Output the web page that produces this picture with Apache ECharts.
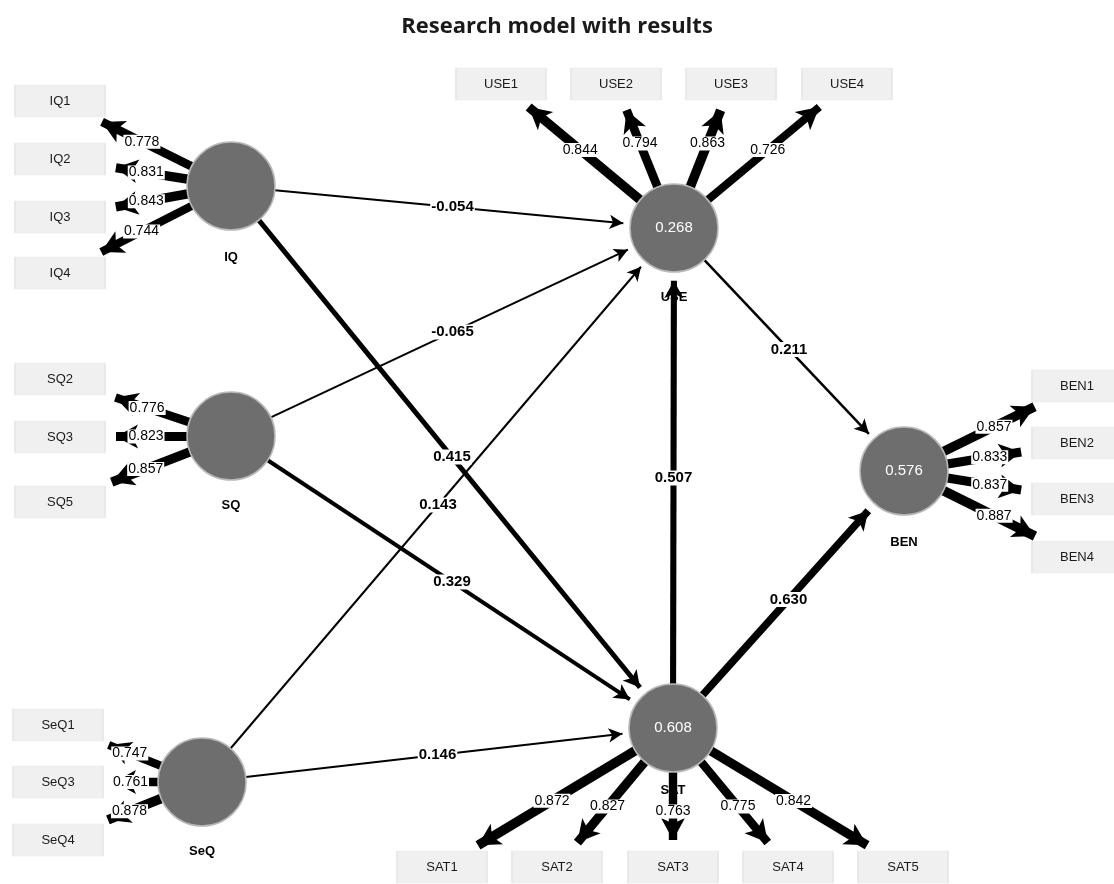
<!DOCTYPE html>
<html>
<head>
<meta charset="utf-8">
<title>Research model with results</title>
<script src="https://cdn.jsdelivr.net/npm/echarts@6/dist/echarts.min.js"></script>
<style>
  html, body { margin: 0; padding: 0; background: #fff; }
  #chart { width: 1114px; height: 884px; }
</style>
</head>
<body>
<div id="chart"></div>
<script>
// ---- data ----
const constructs = ["IQ", "SQ", "SeQ", "USE", "SAT", "BEN"];
const rSquared = [null, null, null, 0.268, 0.608, 0.576];

// outer loadings per construct
const iqItems = ["IQ1", "IQ2", "IQ3", "IQ4"];
const iqLoadings = [0.778, 0.831, 0.843, 0.744];
const sqItems = ["SQ2", "SQ3", "SQ5"];
const sqLoadings = [0.776, 0.823, 0.857];
const seqItems = ["SeQ1", "SeQ3", "SeQ4"];
const seqLoadings = [0.747, 0.761, 0.878];
const useItems = ["USE1", "USE2", "USE3", "USE4"];
const useLoadings = [0.844, 0.794, 0.863, 0.726];
const satItems = ["SAT1", "SAT2", "SAT3", "SAT4", "SAT5"];
const satLoadings = [0.872, 0.827, 0.763, 0.775, 0.842];
const benItems = ["BEN1", "BEN2", "BEN3", "BEN4"];
const benLoadings = [0.857, 0.833, 0.837, 0.887];

// structural paths
const pathFrom = ["IQ", "SQ", "SeQ", "IQ", "SQ", "SeQ", "SAT", "USE", "SAT"];
const pathTo = ["USE", "USE", "USE", "SAT", "SAT", "SAT", "USE", "BEN", "BEN"];
const pathCoef = [-0.054, -0.065, 0.143, 0.415, 0.329, 0.146, 0.507, 0.211, 0.630];

// ---- layout (diagram positions, pixel units on a hidden axis) ----
const layout = {
  IQ: [231, 186], SQ: [231, 436], SeQ: [202, 782],
  USE: [674, 228], SAT: [673, 728], BEN: [904, 471],
  IQ1: [60, 101], IQ2: [60, 159], IQ3: [60, 217], IQ4: [60, 273],
  SQ2: [60, 379], SQ3: [60, 437], SQ5: [60, 502],
  SeQ1: [58, 725], SeQ3: [58, 782], SeQ4: [58, 840],
  USE1: [501, 84], USE2: [616, 84], USE3: [731, 84], USE4: [847, 84],
  SAT1: [442, 867], SAT2: [557, 867], SAT3: [673, 867], SAT4: [788, 867], SAT5: [903, 867],
  BEN1: [1077, 386], BEN2: [1077, 443], BEN3: [1077, 499], BEN4: [1077, 557]
};
const nameOffset = { IQ: 71, SQ: 69, SeQ: 69, USE: 69, SAT: 62, BEN: 71 };
const R = 44;            // construct circle radius
const BOX = [90, 32];    // indicator box size

const blocks = [
  ["IQ", iqItems, iqLoadings], ["SQ", sqItems, sqLoadings], ["SeQ", seqItems, seqLoadings],
  ["USE", useItems, useLoadings], ["SAT", satItems, satLoadings], ["BEN", benItems, benLoadings]
];

function fmt(v) { return v.toFixed(3); }

// segment between node borders
function segment(a, b) {
  const p = layout[a], q = layout[b];
  const dx = q[0] - p[0], dy = q[1] - p[1];
  const len = Math.hypot(dx, dy);
  const ux = dx / len, uy = dy / len;
  let tEnd;
  if (constructs.includes(b)) {
    tEnd = len - R;
  } else {
    const tx = ux !== 0 ? (BOX[0] / 2) / Math.abs(ux) : Infinity;
    const ty = uy !== 0 ? (BOX[1] / 2) / Math.abs(uy) : Infinity;
    tEnd = len - Math.min(tx, ty);
  }
  return {
    start: [p[0] + ux * R, p[1] + uy * R],
    tip: [p[0] + ux * tEnd, p[1] + uy * tEnd],
    ux: ux, uy: uy
  };
}

const lineData = [];
const labelData = [];

function addArrow(a, b, value, width, head, bold) {
  const s = segment(a, b);
  const end = [s.tip[0] - s.ux * head[1] / 2, s.tip[1] - s.uy * head[1] / 2];
  lineData.push({
    coords: [s.start, end],
    symbol: ["none", "arrow"],
    symbolSize: [0, head],
    lineStyle: { width: width }
  });
  labelData.push({
    value: [(s.start[0] + s.tip[0]) / 2, (s.start[1] + s.tip[1]) / 2, fmt(value)],
    label: bold
      ? { fontWeight: "bold", fontSize: 15 }
      : { fontWeight: "normal", fontSize: 14 }
  });
}

blocks.forEach(function (blk) {
  blk[1].forEach(function (item, i) {
    addArrow(blk[0], item, blk[2][i], 11 * blk[2][i], [18, 22], false);
  });
});
pathFrom.forEach(function (from, i) {
  const w = Math.max(2, 12 * Math.abs(pathCoef[i]));
  addArrow(from, pathTo[i], pathCoef[i], w, [9 + w * 0.9, 12 + w * 0.9], true);
});

const circleData = constructs.map(function (c, i) {
  return [layout[c][0], layout[c][1], c, rSquared[i] == null ? "" : fmt(rSquared[i])];
});
const nameData = constructs.map(function (c) {
  return {
    value: [layout[c][0], layout[c][1], c],
    label: { offset: [0, nameOffset[c]] }
  };
});
const boxData = [];
blocks.forEach(function (blk) {
  blk[1].forEach(function (item) {
    boxData.push([layout[item][0], layout[item][1], item]);
  });
});

const chart = echarts.init(document.getElementById("chart"));
chart.setOption({
  animation: false,
  backgroundColor: "#fff",
  textStyle: { fontFamily: "Liberation Sans" },
  title: {
    text: "Research model with results",
    left: "center",
    top: 11,
    textStyle: { fontFamily: "Open Sans", fontWeight: "bold", fontSize: 22, color: "#1a1a1a" }
  },
  grid: { left: 0, right: 0, top: 0, bottom: 0 },
  xAxis: { type: "value", min: 0, max: 1114, show: false },
  yAxis: { type: "value", min: 0, max: 884, inverse: true, show: false },
  series: [
    {
      name: "boxes",
      type: "scatter",
      z: 2,
      silent: true,
      symbol: "rect",
      symbolSize: BOX,
      itemStyle: { color: "#f0f0f0", borderColor: "#e6e6e6", borderWidth: 1, opacity: 1 },
      label: {
        show: true, position: "inside", color: "#1a1a1a", fontSize: 13,
        formatter: function (p) { return p.value[2]; }
      },
      data: boxData
    },
    {
      name: "names",
      type: "scatter",
      z: 3,
      silent: true,
      symbolSize: 1,
      itemStyle: { color: "rgba(0,0,0,0)", opacity: 1 },
      label: {
        show: true, position: "inside",
        color: "#000", fontWeight: "bold", fontSize: 13,
        formatter: function (p) { return p.value[2]; }
      },
      data: nameData
    },
    {
      name: "paths",
      type: "lines",
      coordinateSystem: "cartesian2d",
      z: 4,
      silent: true,
      lineStyle: { color: "#000", opacity: 1, curveness: 0 },
      data: lineData
    },
    {
      name: "constructs",
      type: "scatter",
      z: 5,
      silent: true,
      symbol: "circle",
      symbolSize: 2 * R,
      itemStyle: { color: "#6e6e6e", borderColor: "#b8b8b8", borderWidth: 1.5, opacity: 1 },
      label: {
        show: true, position: "inside", color: "#fff", fontSize: 15,
        formatter: function (p) { return p.value[3]; }
      },
      data: circleData
    },
    {
      name: "coefficients",
      type: "scatter",
      z: 6,
      silent: true,
      symbolSize: 1,
      itemStyle: { color: "rgba(0,0,0,0)", opacity: 1 },
      label: {
        show: true, position: "inside", color: "#000",
        backgroundColor: "#fff", padding: [0, 1],
        formatter: function (p) { return p.value[2]; }
      },
      data: labelData
    }
  ]
});
</script>
</body>
</html>
